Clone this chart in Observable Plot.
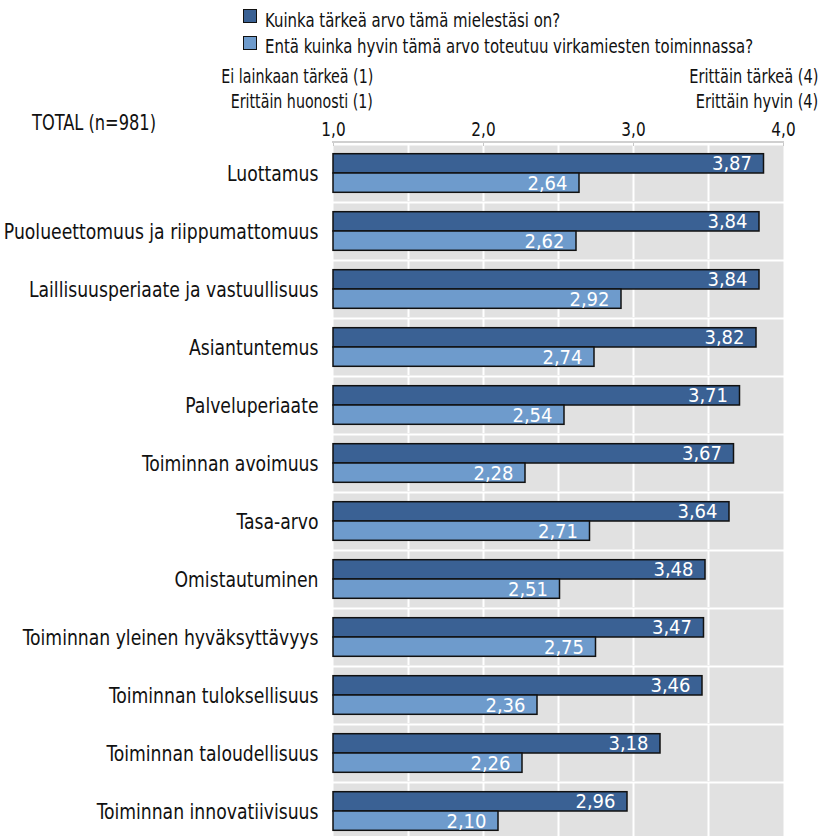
<!DOCTYPE html>
<html><head><meta charset="utf-8">
<script src="https://cdn.jsdelivr.net/npm/d3@7"></script>
<script src="https://cdn.jsdelivr.net/npm/@observablehq/plot@0.6"></script>
<style>
body{margin:0;overflow:hidden;background:#fff;font-family:"DejaVu Sans Condensed","Liberation Sans",sans-serif;color:#111;}
#wrap{position:relative;width:824px;height:836px;overflow:hidden;}
#wrap svg{position:absolute;left:0;top:0;}
.t{position:absolute;white-space:nowrap;line-height:1;}
.sw{position:absolute;width:12px;height:12px;border:1.5px solid #111;}
</style></head>
<body><div id="wrap"></div>
<script>
const categories = ["Luottamus","Puolueettomuus ja riippumattomuus","Laillisuusperiaate ja vastuullisuus","Asiantuntemus","Palveluperiaate","Toiminnan avoimuus","Tasa-arvo","Omistautuminen","Toiminnan yleinen hyväksyttävyys","Toiminnan tuloksellisuus","Toiminnan taloudellisuus","Toiminnan innovatiivisuus"];
const importance = [3.87,3.84,3.84,3.82,3.71,3.67,3.64,3.48,3.47,3.46,3.18,2.96];
const realization = [2.64,2.62,2.92,2.74,2.54,2.28,2.71,2.51,2.75,2.36,2.26,2.10];
const seriesNames = ["Kuinka tärkeä arvo tämä mielestäsi on?","Entä kuinka hyvin tämä arvo toteutuu virkamiesten toiminnassa?"];
const seriesColors = ["#3a6194","#6e9bcc"];
const xTicks = [1,2,3,4];
const gridTicks = [1.5,2,2.5,3,3.5];
const totalLabel = "TOTAL (n=981)";
const leftLabels = ["Ei lainkaan tärkeä (1)","Erittäin huonosti (1)"];
const rightLabels = ["Erittäin tärkeä (4)","Erittäin hyvin (4)"];

const data = [];
categories.forEach((c,i)=>{
  data.push({cat:c, series:seriesNames[0], value:importance[i]});
  data.push({cat:c, series:seriesNames[1], value:realization[i]});
});
const fmt = v => v.toFixed(2).replace(".", ",");
const fmt1 = v => v.toFixed(1).replace(".", ",");
const FONT = '"DejaVu Sans Condensed","Liberation Sans",sans-serif';

const chart = Plot.plot({
  width: 824, height: 840,
  marginLeft: 333, marginRight: 41, marginTop: 144, marginBottom: 0,
  style: {fontFamily: FONT, fontSize: "20px", color: "#111", background: "transparent"},
  x: {domain: [1,4], axis: null},
  y: {domain: seriesNames, axis: null, paddingInner: 0, paddingOuter: 0.45, round: false},
  fy: {domain: categories, paddingInner: 0.035, paddingOuter: 0.0175, round: false},
  color: {domain: seriesNames, range: seriesColors},
  marks: [
    Plot.frame({fill: "#e1e1e1", stroke: null}),
    Plot.gridX({ticks: gridTicks, stroke: "white", strokeOpacity: 1, strokeWidth: 2}),
    Plot.barX(data, {x1: () => 1, x2: "value", y: "series", fy: "cat", fill: "series", stroke: "#111", strokeWidth: 1.5}),
    Plot.text(data, {x: "value", y: "series", fy: "cat", text: d => fmt(d.value), textAnchor: "end", dx: -12, fill: "white", fontSize: 20, ariaLabel: "values"}),
    Plot.axisX({anchor: "top", ticks: xTicks, tickFormat: fmt1, tickSize: 4, tickPadding: 6, stroke: "#c8c8c8", fill: "#111", fontSize: 20, label: null}),
    Plot.axisFy({anchor: "left", tickSize: 0, tickPadding: 15, fontSize: 22, label: null, fill: "#111"})
  ]
});
const wrap = document.getElementById("wrap");
wrap.appendChild(chart);

// condense SVG text to mimic the narrow typeface of the original
function condense(selector, k){
  chart.querySelectorAll(selector).forEach(el => {
    const len = el.getComputedTextLength();
    el.setAttribute("textLength", (len * k).toFixed(2));
    el.setAttribute("lengthAdjust", "spacingAndGlyphs");
  });
}
condense('g[aria-label="fy-axis tick label"] text', 0.87);
condense('g[aria-label="x-axis tick label"] text', 0.85);
condense('g[aria-label="values"] text', 0.88);

function addText(txt, x, baseline, fs, align, k){
  const d = document.createElement("div");
  d.className = "t"; d.textContent = txt;
  d.style.fontSize = fs + "px";
  d.style.top = (baseline - 0.846*fs) + "px";
  if (align === "right") { d.style.right = (824 - x) + "px"; d.style.transformOrigin = "right center"; }
  else { d.style.left = x + "px"; d.style.transformOrigin = "left center"; }
  d.style.transform = `scaleX(${k})`;
  wrap.appendChild(d);
}
// legend
seriesNames.forEach((s,i)=>{
  const sw = document.createElement("div");
  sw.className = "sw"; sw.style.background = seriesColors[i];
  sw.style.left = "243px"; sw.style.top = (9 + i*27) + "px";
  wrap.appendChild(sw);
  addText(s, 265, 27 + i*26, 20, "left", 0.83);
});
addText(leftLabels[0], 373, 83, 20, "right", 0.79);
addText(leftLabels[1], 373, 108, 20, "right", 0.79);
addText(rightLabels[0], 818, 83, 20, "right", 0.81);
addText(rightLabels[1], 818, 108, 20, "right", 0.81);
addText(totalLabel, 32, 131, 22, "left", 0.82);
const line = document.createElement("div");
line.style.cssText = "position:absolute;left:332px;top:141px;width:452px;height:2px;background:#d0d0d0;";
wrap.appendChild(line);
</script></body></html>
